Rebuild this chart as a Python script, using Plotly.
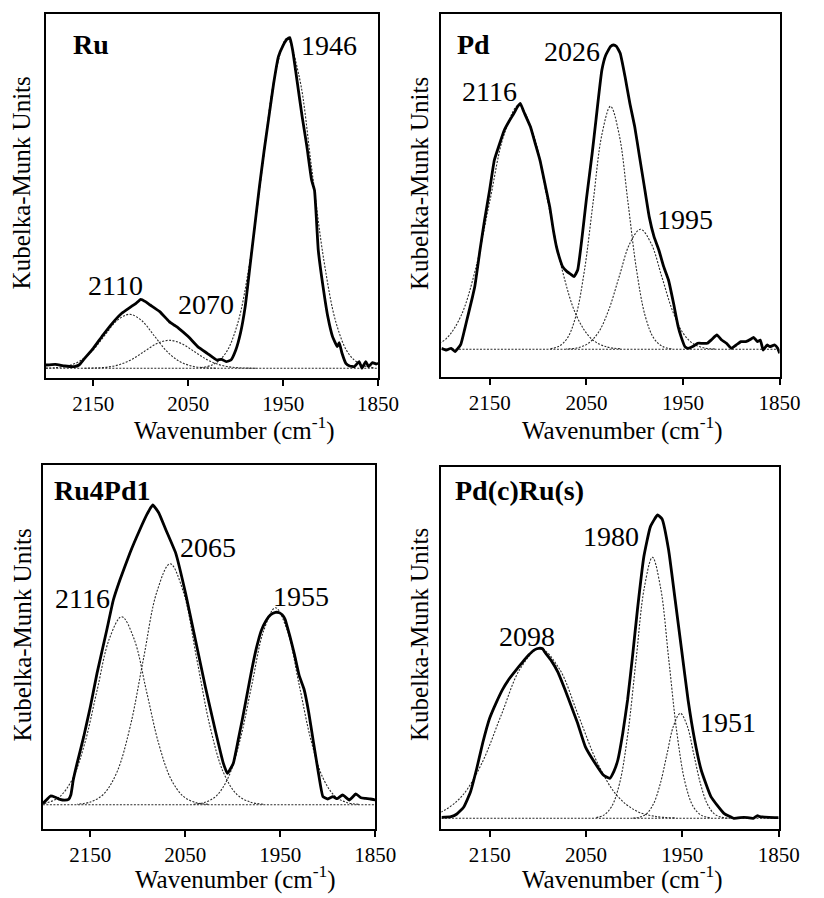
import plotly.graph_objects as go

# ------------------------------------------------------------------ data
x_tick_vals = [2150, 2050, 1950, 1850]
x_range = [2200, 1850]
panel_names = ["Ru", "Pd", "Ru4Pd1", "Pd(c)Ru(s)"]
x_title = "Wavenumber (cm<sup>-1</sup>)"
y_title = "Kubelka-Munk Units"
baseline_wn = [2200, 1850]
baseline_km = [0, 0]

# --- Ru
ru_exp_wn = [2200, 2190, 2180, 2170, 2165, 2160, 2150, 2140, 2130, 2120, 2110, 2105, 2100, 2095,
             2090, 2080, 2070, 2065, 2060, 2050, 2040, 2030, 2020, 2015, 2010, 2005, 2000, 1995,
             1990, 1985, 1980, 1975, 1970, 1965, 1960, 1955, 1950, 1946, 1943, 1940, 1935, 1930,
             1925, 1920, 1917, 1913, 1908, 1903, 1898, 1893, 1891, 1888, 1884, 1880, 1875, 1870,
             1867, 1863, 1860, 1856, 1852, 1850]
ru_exp_km = [3.3, 4.0, 2.3, 1.7, 3.3, 9.0, 20.0, 33.0, 45.0, 55.0, 61.7, 65.0, 69.0, 66.7,
             63.3, 56.7, 46.7, 43.3, 40.0, 31.7, 21.7, 15.0, 8.3, 9.0, 6.7, 8.3, 18.0, 35.0,
             61.7, 101.7, 141.7, 181.7, 218.0, 251.7, 285.0, 311.7, 323.0, 329.0, 330.7, 318.0, 285.0, 251.7,
             221.7, 188.0, 178.0, 118.0, 81.7, 51.7, 31.7, 21.7, 25.7, 15.0, 5.0, 2.3, 1.7, 6.7,
             0.0, 6.7, 1.7, 5.7, 4.3, 5.0]
ru_c2110_wn = [2021, 2034, 2047, 2060, 2073, 2086, 2099, 2112, 2125, 2138, 2151, 2164, 2177, 2190, 2203]
ru_c2110_km = [0.1, 0.6, 2.4, 7.3, 17.5, 32.8, 47.7, 54.0, 47.7, 32.8, 17.5, 7.3, 2.4, 0.6, 0.1]
ru_c2070_wn = [1979, 1992, 2005, 2018, 2031, 2044, 2057, 2070, 2083, 2096, 2109, 2122, 2135, 2148, 2161]
ru_c2070_km = [0.1, 0.3, 1.2, 3.8, 9.1, 17.0, 24.7, 28.0, 24.7, 17.0, 9.1, 3.8, 1.2, 0.3, 0.1]
ru_c1946_wn = [1855, 1868, 1881, 1894, 1907, 1920, 1933, 1946, 1959, 1972, 1985, 1998, 2011, 2024, 2037]
ru_c1946_km = [0.7, 3.7, 14.5, 44.6, 107.2, 200.1, 291.2, 330.0, 291.2, 200.1, 107.2, 44.6, 14.5, 3.7, 0.7]
ru_peak_labels = ["1946", "2110", "2070"]

# --- Pd
pd_exp_wn = [2200, 2195, 2190, 2186, 2180, 2176, 2172, 2168, 2165.5, 2160, 2155.4, 2150, 2145.3, 2140,
             2135, 2130, 2125, 2121, 2118.4, 2115, 2108, 2103, 2098, 2093, 2088, 2084, 2081, 2078,
             2074.6, 2070, 2066, 2062.8, 2059, 2054.4, 2050, 2044, 2040, 2034, 2030, 2025, 2022, 2019,
             2015, 2010, 2005, 2000, 1995, 1990, 1985, 1980, 1975, 1970, 1965, 1960, 1955, 1952,
             1948, 1945, 1940, 1935, 1930, 1925, 1920, 1915, 1910, 1905, 1900, 1895, 1890, 1885,
             1880, 1877, 1873, 1870, 1867, 1863, 1860, 1855, 1852, 1850]
pd_exp_km = [1.0, -0.7, 1.0, -2.3, 5.0, 20.0, 36.0, 52.0, 62.7, 100.0, 129.0, 160.0, 189.0, 205.0,
             219.0, 228.0, 236.0, 243.0, 246.0, 238.0, 222.7, 206.0, 189.0, 166.0, 142.7, 118.0, 102.7, 92.0,
             82.7, 77.7, 75.0, 72.7, 79.3, 112.7, 150.0, 196.0, 230.0, 279.0, 294.0, 302.7, 304.3, 303.0,
             296.0, 272.7, 246.0, 222.7, 192.7, 162.7, 132.7, 112.7, 99.3, 82.7, 69.3, 47.0, 22.7, 12.7,
             2.7, 1.0, 2.7, 6.0, 6.0, 6.0, 10.0, 14.3, 9.3, 6.0, 1.0, 4.3, 7.7, 7.7,
             10.0, 12.0, 7.7, 9.3, -0.7, 4.3, 2.7, 4.3, 1.0, -4.0]
pd_c2116_wn = [2015, 2030, 2045, 2060, 2075, 2090, 2105, 2120, 2135, 2150, 2165, 2180, 2195, 2210, 2225]
pd_c2116_km = [0.5, 2.7, 10.7, 33.0, 79.2, 148.0, 215.3, 244.0, 215.3, 148.0, 79.2, 33.0, 10.7, 2.7, 0.5]
pd_c2026_wn = [1962, 1971, 1980, 1989, 1998, 2007, 2016, 2025, 2034, 2043, 2052, 2061, 2070, 2079, 2088]
pd_c2026_km = [0.5, 2.7, 10.7, 32.9, 78.9, 147.4, 214.4, 243.0, 214.4, 147.4, 78.9, 32.9, 10.7, 2.7, 0.5]
pd_c1995_wn = [1917, 1928, 1939, 1950, 1961, 1972, 1983, 1994, 2005, 2016, 2027, 2038, 2049, 2060, 2071]
pd_c1995_km = [0.3, 1.3, 5.3, 16.2, 39.0, 72.8, 105.9, 120.0, 105.9, 72.8, 39.0, 16.2, 5.3, 1.3, 0.3]
pd_peak_labels = ["2026", "2116", "1995"]

# --- Ru4Pd1
r4_exp_wn = [2200, 2195, 2192, 2187, 2182, 2177, 2173, 2170.5, 2168, 2163.8, 2157, 2150, 2143, 2132.7,
             2125.8, 2118.9, 2108.5, 2098, 2090, 2084.3, 2078, 2070.4, 2060, 2049.7, 2039.3, 2028.9, 2018.5, 2009.9,
             2005.7, 1999.5, 1994.3, 1990, 1985, 1980, 1975, 1970, 1965, 1960, 1955, 1951, 1948, 1945,
             1940, 1935, 1930, 1925, 1920, 1915, 1910, 1905, 1900, 1894.6, 1890, 1884.3, 1877.3, 1870.4,
             1865, 1860, 1855, 1850]
r4_exp_km = [1.3, 6.0, 8.7, 7.5, 5.3, 4.5, 5.3, 10.0, 24.7, 42.0, 68.0, 98.0, 131.3, 174.7,
             204.7, 224.7, 251.3, 274.7, 291.0, 299.7, 292.0, 274.7, 251.3, 211.3, 164.7, 118.0, 74.7, 41.3,
             31.3, 41.3, 64.7, 85.0, 110.0, 135.0, 157.0, 174.0, 184.0, 190.0, 192.3, 192.0, 190.0, 185.7,
             169.0, 150.0, 129.0, 115.7, 92.3, 62.3, 33.0, 8.0, 5.7, 8.0, 6.0, 9.7, 4.7, 10.7,
             7.0, 6.3, 5.7, 4.7]
r4_c2116_wn = [2026, 2039, 2052, 2065, 2078, 2091, 2104, 2117, 2130, 2143, 2156, 2169, 2182, 2195, 2208]
r4_c2116_km = [0.4, 2.1, 8.3, 25.4, 61.0, 114.0, 165.9, 188.0, 165.9, 114.0, 61.0, 25.4, 8.3, 2.1, 0.4]
r4_c2065_wn = [1968, 1982, 1996, 2010, 2024, 2038, 2052, 2066, 2080, 2094, 2108, 2122, 2136, 2150, 2164]
r4_c2065_km = [0.5, 2.7, 10.6, 32.6, 78.3, 146.2, 212.7, 241.0, 212.7, 146.2, 78.3, 32.6, 10.6, 2.7, 0.5]
r4_c1955_wn = [1867.5, 1880, 1892.5, 1905, 1917.5, 1930, 1942.5, 1955, 1967.5, 1980, 1992.5, 2005, 2017.5, 2030, 2042.5]
r4_c1955_km = [0.4, 2.2, 8.6, 26.7, 64.0, 119.5, 173.9, 197.0, 173.9, 119.5, 64.0, 26.7, 8.6, 2.2, 0.4]
r4_peak_labels = ["2065", "2116", "1955"]

# --- Pd(c)Ru(s)
cs_exp_wn = [2200, 2190, 2184, 2177, 2170, 2163.5, 2157, 2150, 2143, 2136.5, 2130, 2123, 2116, 2109.5,
             2103, 2099, 2095, 2092.6, 2086, 2079, 2072, 2065.5, 2059, 2050.7, 2040.5, 2032, 2025.3, 2021,
             2016.9, 2011.8, 2006.8, 2001.7, 1996.6, 1989.9, 1983.1, 1975.7, 1971, 1964.2, 1957.4, 1950.7, 1944, 1937.2,
             1930.4, 1920.3, 1906.8, 1896.6, 1886, 1876.4, 1872, 1869.6, 1860, 1850]
cs_exp_km = [1.0, 1.7, 4.3, 11.0, 26.0, 49.3, 76.0, 100.0, 116.0, 129.0, 139.0, 147.7, 156.0, 163.3,
             168.7, 170.0, 169.5, 166.0, 157.7, 146.0, 129.3, 112.7, 96.0, 71.7, 55.0, 43.3, 40.0, 47.0,
             58.3, 85.0, 118.3, 161.7, 208.3, 261.7, 291.7, 303.3, 299.3, 268.3, 218.3, 168.3, 118.3, 78.3,
             48.3, 21.7, 5.0, 0.0, 1.0, 0.0, 2.7, 1.7, 1.0, 0.7]
cs_c2098_wn = [1958, 1978, 1998, 2018, 2038, 2058, 2078, 2098, 2118, 2138, 2158, 2178, 2198, 2218, 2238]
cs_c2098_km = [0.4, 1.9, 7.5, 23.0, 55.2, 103.1, 150.0, 170.0, 150.0, 103.1, 55.2, 23.0, 7.5, 1.9, 0.4]
cs_c1980_wn = [1921.5, 1930, 1938.5, 1947, 1955.5, 1964, 1972.5, 1981, 1989.5, 1998, 2006.5, 2015, 2023.5, 2032, 2040.5]
cs_c1980_km = [0.6, 2.9, 11.5, 35.3, 84.7, 158.3, 230.3, 261.0, 230.3, 158.3, 84.7, 35.3, 11.5, 2.9, 0.6]
cs_c1951_wn = [1903, 1910, 1917, 1924, 1931, 1938, 1945, 1952, 1959, 1966, 1973, 1980, 1987, 1994, 2001]
cs_c1951_km = [0.2, 1.2, 4.6, 14.2, 34.1, 63.7, 92.7, 105.0, 92.7, 63.7, 34.1, 14.2, 4.6, 1.2, 0.2]
cs_peak_labels = ["1980", "2098", "1951"]

# ------------------------------------------------------------------ layout helpers
FIG_W, FIG_H = 824, 898
FONT = "'Liberation Serif', 'Times New Roman', Times, serif"


def fx(px):
    return px / FIG_W


def fy(py):
    return 1 - py / FIG_H


panels = [
    dict(exp=(ru_exp_wn, ru_exp_km),
         comps=[(ru_c2110_wn, ru_c2110_km), (ru_c2070_wn, ru_c2070_km), (ru_c1946_wn, ru_c1946_km)],
         labels=ru_peak_labels, box=(47, 14, 388, 378), yrange=[-9.7, 354.3],
         name_pos=(73, 44), label_pos=[(338, 46), (118.5, 285), (211, 304)],
         ytitle_pos=(23, 183), xtitle_pos=(241, 428)),
    dict(exp=(pd_exp_wn, pd_exp_km),
         comps=[(pd_c2116_wn, pd_c2116_km), (pd_c2026_wn, pd_c2026_km), (pd_c1995_wn, pd_c1995_km)],
         labels=pd_peak_labels, box=(453, 14, 800, 377), yrange=[-27.7, 335.3],
         name_pos=(467, 44), label_pos=[(587, 52), (502, 92), (702.5, 219)],
         ytitle_pos=(430, 184), xtitle_pos=(638.5, 428)),
    dict(exp=(r4_exp_wn, r4_exp_km),
         comps=[(r4_c2116_wn, r4_c2116_km), (r4_c2065_wn, r4_c2065_km), (r4_c1955_wn, r4_c1955_km)],
         labels=r4_peak_labels, box=(44, 465, 385, 829), yrange=[-24.3, 339.7],
         name_pos=(53, 491), label_pos=[(213, 547), (85, 598), (309, 596)],
         ytitle_pos=(23, 635), xtitle_pos=(242, 877)),
    dict(exp=(cs_exp_wn, cs_exp_km),
         comps=[(cs_c2098_wn, cs_c2098_km), (cs_c1980_wn, cs_c1980_km), (cs_c1951_wn, cs_c1951_km)],
         labels=cs_peak_labels, box=(453, 467, 799, 829), yrange=[-10.7, 351.3],
         name_pos=(465, 491), label_pos=[(626.5, 536), (540.5, 636), (747.5, 722)],
         ytitle_pos=(430, 635), xtitle_pos=(638.5, 877)),
]

fig = go.Figure()
annotations = []
layout_axes = {}

comp_line = dict(color="#2a2a2a", width=1.1, dash="2px,1.5px")

for i, p in enumerate(panels):
    n = "" if i == 0 else str(i + 1)
    xa, ya = "x" + n, "y" + n
    # baseline
    fig.add_trace(go.Scatter(x=baseline_wn, y=baseline_km, mode="lines", line=comp_line,
                             xaxis=xa, yaxis=ya, showlegend=False, hoverinfo="skip"))
    for cw, ck in p["comps"]:
        fig.add_trace(go.Scatter(x=cw, y=ck, mode="lines", line=dict(comp_line, shape="spline", smoothing=1.0),
                                 xaxis=xa, yaxis=ya, showlegend=False))
    fig.add_trace(go.Scatter(x=p["exp"][0], y=p["exp"][1], mode="lines",
                             line=dict(color="black", width=2.8, shape="spline", smoothing=0.4),
                             xaxis=xa, yaxis=ya, showlegend=False))

    x0, y0, x1, y1 = p["box"]
    layout_axes["xaxis" + n] = dict(
        domain=[fx(x0), fx(x1)], anchor=ya, range=x_range, tickvals=x_tick_vals,
        ticktext=[str(v) for v in x_tick_vals], ticks="outside", ticklen=6, tickwidth=1.5,
        tickcolor="black", showline=True, linecolor="black", linewidth=1.5, mirror=True,
        showgrid=False, zeroline=False,
        tickfont=dict(family=FONT, size=21, color="black"))
    layout_axes["yaxis" + n] = dict(
        domain=[fy(y1), fy(y0)], anchor=xa, range=p["yrange"], showticklabels=False, ticks="",
        showline=True, linecolor="black", linewidth=1.5, mirror=True, showgrid=False, zeroline=False)

    nx, ny = p["name_pos"]
    annotations.append(dict(text="<b>%s</b>" % panel_names[i], x=fx(nx), y=fy(ny), xref="paper", yref="paper",
                            xanchor="left", yanchor="middle", showarrow=False,
                            font=dict(family=FONT, size=28, color="black")))
    for lab, (lx, ly) in zip(p["labels"], p["label_pos"]):
        annotations.append(dict(text=lab, x=fx(lx), y=fy(ly), xref="paper", yref="paper",
                                xanchor="center", yanchor="middle", showarrow=False,
                                font=dict(family=FONT, size=28, color="black")))
    tx, ty = p["ytitle_pos"]
    annotations.append(dict(text=y_title, x=fx(tx), y=fy(ty), xref="paper", yref="paper", textangle=-90,
                            xanchor="center", yanchor="middle", showarrow=False,
                            font=dict(family=FONT, size=25, color="black")))
    tx, ty = p["xtitle_pos"]
    annotations.append(dict(text=x_title, x=fx(tx), y=fy(ty), xref="paper", yref="paper",
                            xanchor="center", yanchor="middle", showarrow=False,
                            font=dict(family=FONT, size=25, color="black")))

fig.update_layout(width=FIG_W, height=FIG_H, margin=dict(l=0, r=0, t=0, b=0),
                  paper_bgcolor="white", plot_bgcolor="white", showlegend=False,
                  font=dict(family=FONT, color="black"),
                  annotations=annotations, **layout_axes)

fig.write_html("out.html", config={"displayModeBar": False})
